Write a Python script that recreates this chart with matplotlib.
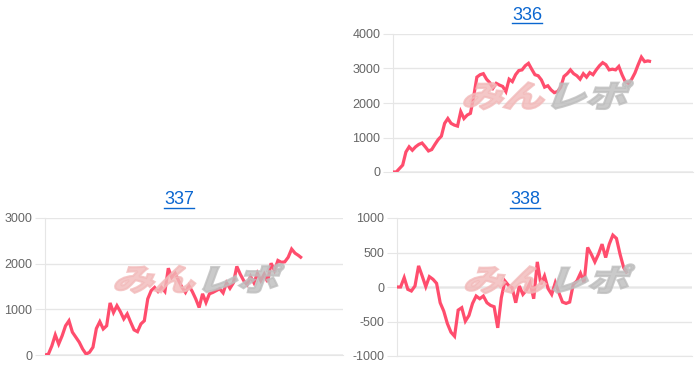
import matplotlib
matplotlib.use("Agg")
import matplotlib.pyplot as plt
from matplotlib.textpath import TextPath
from matplotlib.patches import PathPatch
from matplotlib.font_manager import FontProperties
from matplotlib.transforms import Affine2D
from matplotlib.lines import Line2D

# ---- data ----
titles = ["336", "337", "338"]

vals_336 = [0, 0, 100, 200, 580, 730, 630, 730, 800, 840, 730, 610, 650, 800,
            940, 1040, 1410, 1550, 1410, 1360, 1330, 1750, 1550, 1650, 1700,
            2180, 2750, 2820, 2850, 2690, 2590, 2430, 2570, 2520, 2480, 2330,
            2690, 2620, 2820, 2940, 2960, 3080, 3150, 2980, 2820, 2790, 2670,
            2460, 2500, 2380, 2300, 2330, 2460, 2770, 2850, 2960, 2850, 2790,
            2690, 2850, 2750, 2880, 2820, 2960, 3080, 3170, 3110, 2960, 2980,
            2960, 3060, 2820, 2620, 2570, 2690, 2870, 3110, 3330, 3200, 3220,
            3200]

vals_337 = [0, 20, 200, 440, 240, 420, 640, 750, 500, 390, 280, 130, 20, 60,
            170, 580, 730, 570, 640, 1140, 930, 1080, 950, 790, 900, 720, 550,
            510, 680, 750, 1230, 1410, 1480, 1390, 1480, 1390, 1900, 1700, 1790,
            1630, 1480, 1370, 1520, 1390, 1230, 1040, 1340, 1150, 1340, 1370,
            1410, 1450, 1360, 1580, 1460, 1580, 1940, 1770, 1630, 1540, 1720,
            1580, 1790, 1630, 1770, 1600, 2010, 1850, 2070, 2030, 2040, 2140,
            2320, 2230, 2180, 2120]

vals_338 = [0, 0, 136, -34, -58, 15, 306, 160, 5, 150, 112, 53, -228, -350,
            -530, -655, -714, -335, -300, -495, -413, -238, -131, -170, -131,
            -228, -267, -286, -592, -155, 87, 24, -10, -228, 15, -107, -44, 63,
            -170, 364, 39, 160, -24, -107, 63, -83, -218, -238, -218, 39, 87,
            199, 63, 573, 476, 364, 476, 621, 427, 621, 752, 704, 476, 282, 199]

series = [vals_336, vals_337, vals_338]
n_labels = [94, 88, 83]          # total x categories on each chart
y_ranges = [(0, 4000), (0, 3000), (-1000, 1000)]
y_steps = [1000, 1000, 500]

LINE = "#ff4d6d"
GRID = "#e6e6e6"
ZERO = "#b3b3b3"
TICK = "#666666"
LINK = "#0a66d0"

fig = plt.figure(figsize=(7.0, 3.72), dpi=100)

# axes boxes in pixels: left, right, top, bottom
boxes = [(393, 693, 34, 172), (45, 343, 218, 355), (397, 692, 218, 356)]
title_pos = [(527, 15), (179, 200), (525, 200)]

W, H = 700, 372
axes = []
for box in boxes:
    l, r, t, b = box
    ax = fig.add_axes([l / W, 1 - b / H, (r - l) / W, (b - t) / H])
    axes.append(ax)

fp = FontProperties(family="Noto Sans CJK JP", weight="heavy")

for i, ax in enumerate(axes):
    vals = series[i]
    lo, hi = y_ranges[i]
    ax.plot(range(len(vals)), vals, color=LINE, lw=2.3, zorder=4,
            solid_joinstyle="miter", solid_capstyle="butt")
    ax.set_xlim(0, n_labels[i] - 1)
    ax.set_ylim(lo, hi)
    ticks = list(range(lo, hi + 1, y_steps[i]))
    ax.set_yticks(ticks)
    ax.set_yticklabels([str(v) for v in ticks])
    ax.set_xticks([])
    ax.grid(axis="y", color=GRID, lw=1, zorder=0)
    ax.axhline(0, color=ZERO, lw=1, zorder=1)
    for s in ["top", "right"]:
        ax.spines[s].set_visible(False)
    ax.spines["left"].set_color(GRID)
    ax.spines["bottom"].set_color(GRID)
    ax.tick_params(axis="y", length=7, color=GRID, pad=2, labelsize=9,
                   labelcolor=TICK)
    for lab in ax.get_yticklabels():
        lab.set_fontfamily("Liberation Sans")

    # watermark logo
    cx = (boxes[i][0] + boxes[i][1]) / 2
    cy = H - ((boxes[i][2] + boxes[i][3]) / 2 - 8)
    p1 = TextPath((0, 0), "みん", size=38, prop=fp)
    p2 = TextPath((0, 0), "レポ", size=38, prop=fp)
    sx, sy = 1.08, 0.8
    w1 = p1.get_extents().width * sx
    w2 = p2.get_extents().width * sx
    total = w1 + w2 + 4
    x0 = cx - total / 2 - 4
    y0 = cy - 12
    for path, col, off in [(p1, "#f2baba", 0), (p2, "#bdbdbd", w1 + 4)]:
        tr = Affine2D().scale(sx, sy).skew_deg(20, 0).translate(x0 + off, y0)
        patch = PathPatch(path, facecolor=col, edgecolor=col, lw=1.5,
                          alpha=0.8, transform=tr, zorder=2)
        fig.add_artist(patch)

# titles with underline
fig.canvas.draw()
renderer = fig.canvas.get_renderer()
for i, (tx, ty) in enumerate(title_pos):
    t = fig.text(tx / W, 1 - ty / H, titles[i], color=LINK, fontsize=13,
                 family="Liberation Sans", ha="center", va="center")
    bb = t.get_window_extent(renderer)
    uy = (bb.y0 + 0.5) / H
    fig.add_artist(Line2D([bb.x0 / W, bb.x1 / W], [uy, uy], color=LINK,
                          lw=1, transform=fig.transFigure))

fig.savefig("out.png", dpi=100)
